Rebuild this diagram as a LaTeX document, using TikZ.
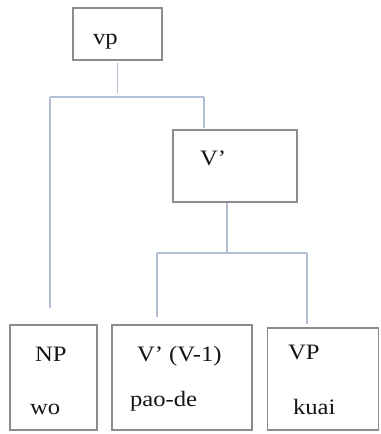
\documentclass[tikz,border=0pt]{standalone}
\usepackage{fontspec}
\setmainfont{Liberation Serif}
\usepackage{graphicx}
\definecolor{conncol}{RGB}{178,190,212}
\definecolor{boxcol}{RGB}{140,140,140}
\definecolor{txtcol}{RGB}{20,20,20}
\newcommand{\wtxt}[1]{\scalebox{1.12}[1]{#1}}
\begin{document}
\begin{tikzpicture}[x=1bp,y=-1bp,
  boxnode/.style={draw=boxcol,line width=1.8bp,inner sep=0pt,outer sep=0pt,fill=none},
  conn/.style={draw=conncol,line width=1.3bp},
  lbl/.style={anchor=base west,inner sep=0pt,outer sep=0pt,text=txtcol,font=\fontsize{22bp}{25bp}\selectfont}]
\useasboundingbox (0,0) rectangle (380,434);
% boxes
\node[boxnode,minimum width=89bp,minimum height=52bp] (vpbox) at (117.5,34) {};
\node[boxnode,minimum width=124bp,minimum height=72bp] (vbox) at (235,166) {};
\node[boxnode,minimum width=87bp,minimum height=105bp] (npbox) at (53.5,377.5) {};
\node[boxnode,minimum width=140bp,minimum height=105bp] (paobox) at (182,377.5) {};
\node[boxnode,minimum width=111bp,minimum height=102bp] (vpbbox) at (323,379) {};
% labels
\node[lbl] (vptxt) at (93,45) {\wtxt{vp}};
\node[lbl] (vtxt) at (200,166) {\wtxt{V’}};
\node[lbl] (nptxt) at (35,361) {\wtxt{NP}};
\node[lbl] (wotxt) at (30,414) {\wtxt{wo}};
\node[lbl] (vvtxt) at (137,361) {\wtxt{V’ (V-1)}};
\node[lbl] (paotxt) at (130,406) {\wtxt{pao-de}};
\node[lbl] (vpbtxt) at (288,359) {\wtxt{VP}};
\node[lbl] (kuaitxt) at (293,414) {\wtxt{kuai}};
% junctions
\coordinate (jl) at (50,97);
\coordinate (jr) at (204,97);
\coordinate (jm) at (227,253);
\coordinate (ja) at (157,253);
\coordinate (jb) at (307,253);
% connectors
\draw[conn,shorten <=3bp,shorten >=4bp] (vpbox.south) -- (vpbox.south |- jl);
\draw[conn] (jl) -- (jr);
\draw[conn,shorten >=17bp] (jl) -- (jl |- npbox.north);
\draw[conn,shorten >=2bp] (jr) -- (jr |- vbox.north);
\draw[conn,shorten <=1bp] (jm |- vbox.south) -- (jm);
\draw[conn] (ja) -- (jb);
\draw[conn,shorten >=8bp] (ja) -- (ja |- paobox.north);
\draw[conn,shorten >=4bp] (jb) -- (jb |- vpbbox.north);
\end{tikzpicture}
\end{document}
